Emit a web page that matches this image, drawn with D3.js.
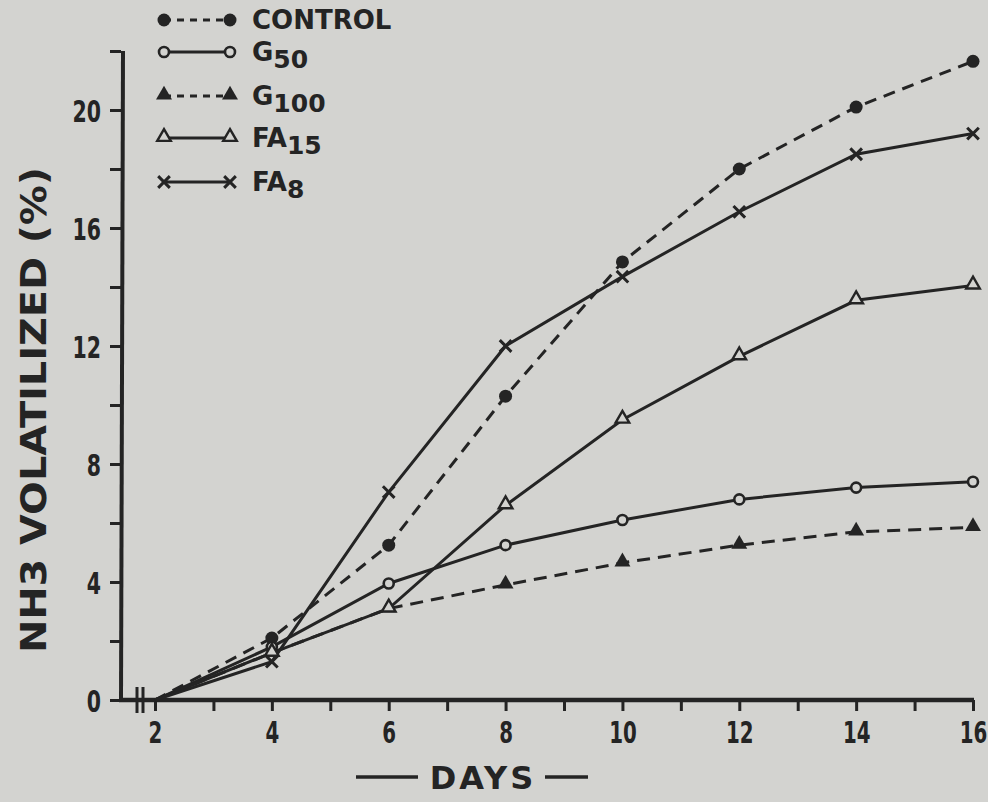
<!DOCTYPE html>
<html>
<head>
<meta charset="utf-8">
<script src="https://cdn.jsdelivr.net/npm/d3@7"></script>
<style>
  html, body { margin: 0; padding: 0; background: #d3d3d0; }
  svg { display: block; }
  text { font-family: "DejaVu Sans", "Liberation Sans", sans-serif; font-weight: bold; fill: #242424; }
</style>
</head>
<body>
<svg id="chart"></svg>
<script>
// days sampled
var days = [2, 4, 6, 8, 10, 12, 14, 16];

// NH3 volatilized (%) per treatment
var control = [0, 2.1, 5.25, 10.3, 14.85, 18.0, 20.1, 21.65];
var g50 = [0, 1.8, 3.95, 5.25, 6.1, 6.8, 7.2, 7.4];
var g100 = [0, 1.6, 3.1, 3.9, 4.65, 5.25, 5.7, 5.85];
var fa15 = [0, 1.6, 3.1, 6.6, 9.5, 11.65, 13.55, 14.05];
var fa8 = [0, 1.3, 7.05, 12.0, 14.35, 16.55, 18.5, 19.2];

var xTicks = [2, 3, 4, 5, 6, 7, 8, 9, 10, 11, 12, 13, 14, 15, 16];
var xLabels = [2, 4, 6, 8, 10, 12, 14, 16];
var yTicks = [0, 2, 4, 6, 8, 10, 12, 14, 16, 18, 20, 22];
var yLabels = [0, 4, 8, 12, 16, 20];

var ink = "#242424";
var paper = "#d3d3d0";
var width = 988, height = 802;
var squeeze = 0.66; // narrow lettering of the original

var svg = d3.select("#chart").attr("width", width).attr("height", height);

var x = d3.scaleLinear().domain([2, 16]).range([155, 973]);
var y = d3.scaleLinear().domain([0, 20]).range([700, 110]);
var axisX = 121;

// series definitions
var series = [
  { name: "CONTROL", sub: "", values: control, marker: "dot", dash: "12,8" },
  { name: "G", sub: "50", values: g50, marker: "circle", dash: null },
  { name: "G", sub: "100", values: g100, marker: "tri", dash: "13,8" },
  { name: "FA", sub: "15", values: fa15, marker: "otri", dash: null },
  { name: "FA", sub: "8", values: fa8, marker: "cross", dash: null }
];

function drawMarker(g, type, cx, cy) {
  if (type === "dot") {
    g.append("circle").attr("cx", cx).attr("cy", cy).attr("r", 6.5).attr("fill", ink);
  } else if (type === "circle") {
    g.append("circle").attr("cx", cx).attr("cy", cy).attr("r", 5)
      .attr("fill", paper).attr("stroke", ink).attr("stroke-width", 2.6);
  } else if (type === "tri") {
    g.append("path").attr("d", d3.symbol(d3.symbolTriangle, 110)()).attr("transform", "translate(" + cx + "," + (cy - 1) + ")")
      .attr("fill", ink);
  } else if (type === "otri") {
    g.append("path").attr("d", d3.symbol(d3.symbolTriangle, 80)()).attr("transform", "translate(" + cx + "," + (cy - 1) + ")")
      .attr("fill", paper).attr("stroke", ink).attr("stroke-width", 2.4);
  } else {
    g.append("path").attr("d", d3.symbol(d3.symbolX, 90)()).attr("transform", "translate(" + cx + "," + cy + ")")
      .attr("fill", "none").attr("stroke", ink).attr("stroke-width", 3);
  }
}

// axes
var yAxis = d3.axisLeft(y).tickValues(yTicks).tickSize(11).tickSizeOuter(0)
  .tickFormat(function (d) { return yLabels.indexOf(d) >= 0 ? d : ""; });
var yg = svg.append("g").attr("transform", "translate(" + axisX + ",0)").call(yAxis);
yg.select(".domain").remove();
yg.selectAll(".tick line").attr("stroke", ink).attr("stroke-width", 3);
yg.selectAll(".tick text").attr("font-size", 31).attr("x", -20 / squeeze).attr("dy", "0.36em")
  .attr("transform", "scale(" + squeeze + ",1)")
  .attr("font-family", null).style("fill", ink);
svg.append("line").attr("x1", axisX).attr("x2", axisX + 2).attr("y1", y(0) + 1).attr("y2", y(22))
  .attr("stroke", ink).attr("stroke-width", 4);

var xAxis = d3.axisBottom(x).tickValues(xTicks).tickSize(11).tickSizeOuter(0)
  .tickFormat(function (d) { return xLabels.indexOf(d) >= 0 ? d : ""; });
var xg = svg.append("g").attr("transform", "translate(0," + y(0) + ")").call(xAxis);
xg.select(".domain").remove();
xg.selectAll(".tick line").attr("stroke", ink).attr("stroke-width", 3);
xg.selectAll(".tick text").attr("font-size", 30).attr("y", 22).attr("dy", "0.71em")
  .attr("transform", "scale(" + squeeze + ",1)")
  .attr("font-family", null).style("fill", ink);
svg.append("line").attr("x1", axisX - 2).attr("x2", x(16) + 1).attr("y1", y(0)).attr("y2", y(0))
  .attr("stroke", ink).attr("stroke-width", 4.5);
// axis break marks
[137, 143].forEach(function (bx) {
  svg.append("line").attr("x1", bx).attr("x2", bx).attr("y1", y(0) - 13).attr("y2", y(0) + 13)
    .attr("stroke", ink).attr("stroke-width", 3);
});

// axis titles
svg.append("text").attr("transform", "translate(46,410) rotate(-90)")
  .attr("text-anchor", "middle").attr("font-size", 36)
  .attr("textLength", 486).attr("lengthAdjust", "spacingAndGlyphs")
  .text("NH3 VOLATILIZED (%)");

svg.append("line").attr("x1", 356).attr("x2", 418).attr("y1", 777).attr("y2", 777).attr("stroke", ink).attr("stroke-width", 3.5);
svg.append("line").attr("x1", 545).attr("x2", 588).attr("y1", 777).attr("y2", 777).attr("stroke", ink).attr("stroke-width", 3.5);
svg.append("text").attr("x", 483).attr("y", 789).attr("text-anchor", "middle")
  .attr("font-size", 32).attr("letter-spacing", 3).text("DAYS");

// lines
var line = d3.line().x(function (d) { return x(d[0]); }).y(function (d) { return y(d[1]); });
var plot = svg.append("g");
series.forEach(function (s) {
  var pts = days.map(function (d, i) { return [d, s.values[i]]; });
  plot.append("path").datum(pts).attr("d", line).attr("fill", "none")
    .attr("stroke", ink).attr("stroke-width", 3)
    .attr("stroke-dasharray", s.dash);
});
series.forEach(function (s) {
  days.forEach(function (d, i) {
    if (i === 0) return;
    drawMarker(plot, s.marker, x(d), y(s.values[i]));
  });
});

// legend
var rows = [20, 52, 96, 138, 182];
series.forEach(function (s, i) {
  var g = svg.append("g");
  var ly = rows[i];
  g.append("line").attr("x1", 164).attr("x2", 230).attr("y1", ly).attr("y2", ly)
    .attr("stroke", ink).attr("stroke-width", 3).attr("stroke-dasharray", s.dash ? "7,6" : null);
  drawMarker(g, s.marker, 164, ly);
  drawMarker(g, s.marker, 230, ly);
  var t = g.append("text").attr("x", 252).attr("y", ly + 9).attr("font-size", 26);
  t.append("tspan").text(s.name);
  if (s.sub) t.append("tspan").attr("dy", 7).attr("font-size", 25).text(s.sub);
});
</script>
</body>
</html>
